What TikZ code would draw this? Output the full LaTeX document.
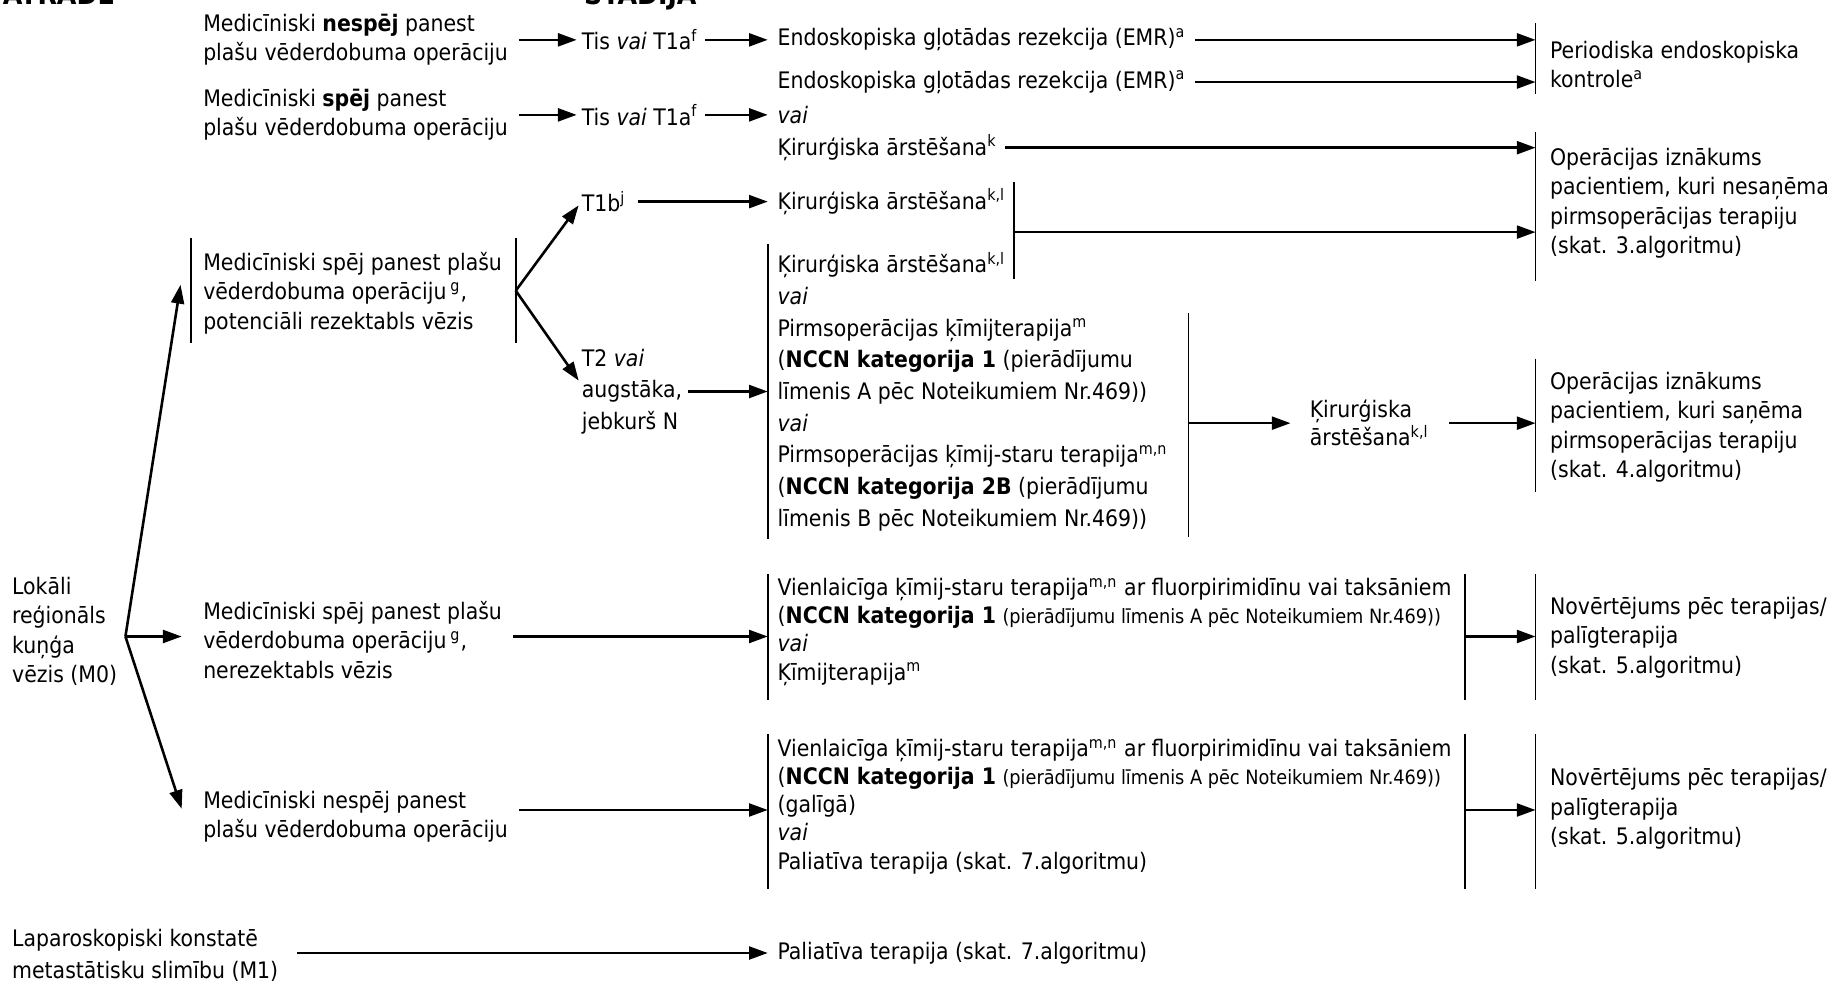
\documentclass[tikz,border=0pt]{standalone}
\usepackage{fontspec}
\setmainfont{DejaVu Sans Condensed}
\usetikzlibrary{arrows.meta}

\newcommand\bodyfont{\fontsize{9.7}{12.5}\selectfont}
\newcommand\loosefont{\fontsize{9.7}{13.5}\selectfont}
\newcommand\tightfont{\fontsize{9.7}{12}\selectfont}
\newcommand\smallpar{\fontsize{8.4}{12}\selectfont}

\begin{document}
\begin{tikzpicture}[x=0.5pt,y=-0.5pt,
  txt/.style={anchor=west,inner sep=0pt,align=left,font=\bodyfont},
  txtw/.style={txt,font=\loosefont},
  txtm/.style={txt,font=\tightfont},
  arr/.style={line width=1.1pt,-{Triangle[length=8pt,width=5.5pt]}},
  brk/.style={line width=0.7pt}]
\useasboundingbox (0,0) rectangle (1568,845);

% column headings, cut by the top edge
\node[anchor=base west,inner sep=0pt,font=\bfseries\fontsize{12}{14}\selectfont] (hatr) at (2,3.5) {ATRADE};
\node[anchor=base west,inner sep=0pt,font=\bfseries\fontsize{12}{14}\selectfont] (hstad) at (498,3.5) {STADIJA};

% --- early stages ---
\node[txt] (a1) at (173,34) {Medicīniski \textbf{nespēj} panest\\plašu vēderdobuma operāciju};
\node[txt] (a2) at (173,98) {Medicīniski \textbf{spēj} panest\\plašu vēderdobuma operāciju};
\node[txt] (tis1) at (496,34) {Tis \textit{vai} T1a\textsuperscript{f}};
\node[txt] (tis2) at (496,98) {Tis \textit{vai} T1a\textsuperscript{f}};
\node[txt] (emr1) at (663,34) {Endoskopiska gļotādas rezekcija (EMR)\textsuperscript{a}};
\node[txt] (emr2) at (663,70) {Endoskopiska gļotādas rezekcija (EMR)\textsuperscript{a}};
\node[txt] (vai1) at (663,98) {\textit{vai}};
\node[txt] (kirk) at (663,126) {Ķirurģiska ārstēšana\textsuperscript{k}};

\coordinate (b1t) at (1310,20);  \coordinate (b1b) at (1310,80);
\node[txt] (per) at (1322,55) {Periodiska endoskopiska\\kontrole\textsuperscript{a}};
\coordinate (b2t) at (1310,113); \coordinate (b2b) at (1310,240);
\node[txt] (opn1) at (1322,173.5) {Operācijas iznākums\\pacientiem, kuri nesaņēma\\pirmsoperācijas terapiju\\(skat. 3.algoritmu)};

% --- potentially resectable ---
\node[txt] (pot) at (173,250) {Medicīniski spēj panest plašu\\vēderdobuma operāciju\,\textsuperscript{g},\\potenciāli rezektabls vēzis};
\coordinate (pL1) at (163,203); \coordinate (pL2) at (163,293);
\coordinate (pR1) at (440,203); \coordinate (pR2) at (440,293);
\coordinate (pRm) at (440,248);
\node[txt] (t1b) at (496,172) {T1b\textsuperscript{j}};
\node[txtw] (t2) at (496,334) {T2 \textit{vai}\\augstāka,\\jebkurš N};
\node[txt] (kir1) at (663,172) {Ķirurģiska ārstēšana\textsuperscript{k,l}};
\coordinate (b3t) at (865,155); \coordinate (b3b) at (865,238); \coordinate (b3m) at (865,198);
\node[txtw] (pre) at (663,334) {Ķirurģiska ārstēšana\textsuperscript{k,l}\\
  \textit{vai}\\
  Pirmsoperācijas ķīmijterapija\textsuperscript{m}\\
  (\textbf{NCCN kategorija 1} (pierādījumu\\
  līmenis A pēc Noteikumiem Nr.469))\\
  \textit{vai}\\
  Pirmsoperācijas ķīmij-staru terapija\textsuperscript{m,n}\\
  (\textbf{NCCN kategorija 2B} (pierādījumu\\
  līmenis B pēc Noteikumiem Nr.469))};
\coordinate (c0t) at (655,208); \coordinate (c0b) at (655,460);
\coordinate (b5t) at (1014,267); \coordinate (b5b) at (1014,458); \coordinate (b5m) at (1014,361);
\node[txt,font=\fontsize{9.7}{11.8}\selectfont] (kir3) at (1117,361) {Ķirurģiska\\ārstēšana\textsuperscript{k,l}};
\coordinate (b4t) at (1310,306); \coordinate (b4b) at (1310,420);
\node[txt] (opn2) at (1322,364.5) {Operācijas iznākums\\pacientiem, kuri saņēma\\pirmsoperācijas terapiju\\(skat. 4.algoritmu)};

% --- locoregional disease ---
\node[txt] (lok) at (10,538.5) {Lokāli\\reģionāls\\kuņģa\\vēzis (M0)};
\coordinate (apex) at (107,543);
\coordinate (inPot) at (154,243);
\coordinate (inNes) at (155,690);
\node[txt] (nerez) at (173,546) {Medicīniski spēj panest plašu\\vēderdobuma operāciju\,\textsuperscript{g},\\nerezektabls vēzis};
\node[txt] (nesp) at (173,697) {Medicīniski nespēj panest\\plašu vēderdobuma operāciju};

\node[txtm] (ch1) at (663,539) {Vienlaicīga ķīmij-staru terapija\textsuperscript{m,n} ar fluorpirimidīnu vai taksāniem\\
  (\textbf{NCCN kategorija 1} {\smallpar(pierādījumu līmenis A pēc Noteikumiem Nr.469))}\\
  \textit{vai}\\
  Ķīmijterapija\textsuperscript{m}};
\coordinate (c1t) at (655,490);  \coordinate (c1b) at (655,597);
\coordinate (d1t) at (1250,490); \coordinate (d1b) at (1250,597); \coordinate (d1m) at (1250,543);
\coordinate (e1t) at (1310,490); \coordinate (e1b) at (1310,597);
\node[txt] (nov1) at (1322,544) {Novērtējums pēc terapijas/\\palīgterapija\\(skat. 5.algoritmu)};

\node[txtm] (ch2) at (663,688) {Vienlaicīga ķīmij-staru terapija\textsuperscript{m,n} ar fluorpirimidīnu vai taksāniem\\
  (\textbf{NCCN kategorija 1} {\smallpar(pierādījumu līmenis A pēc Noteikumiem Nr.469))}\\
  (galīgā)\\
  \textit{vai}\\
  Paliatīva terapija (skat. 7.algoritmu)};
\coordinate (c2t) at (655,626);  \coordinate (c2b) at (655,758);
\coordinate (d2t) at (1250,626); \coordinate (d2b) at (1250,758); \coordinate (d2m) at (1250,691);
\coordinate (e2t) at (1310,626); \coordinate (e2b) at (1310,758);
\node[txt] (nov2) at (1322,690) {Novērtējums pēc terapijas/\\palīgterapija\\(skat. 5.algoritmu)};

% --- metastatic disease ---
\node[txtw] (lap) at (10,815) {Laparoskopiski konstatē\\metastātisku slimību (M1)};
\node[txt] (pal) at (663,813) {Paliatīva terapija (skat. 7.algoritmu)};

% bracket bars
\foreach \p/\q in {b1t/b1b,b2t/b2b,pL1/pL2,pR1/pR2,b3t/b3b,c0t/c0b,b5t/b5b,b4t/b4b,
                   c1t/c1b,d1t/d1b,e1t/e1b,c2t/c2b,d2t/d2b,e2t/e2b}
  \draw[brk] (\p) -- (\q);

% connectors
\draw[arr,shorten <=4.5pt,shorten >=2pt] (a1.east) -- (tis1.west);
\draw[arr,shorten <=4.5pt,shorten >=2pt] (a2.east) -- (tis2.west);
\draw[arr,shorten <=3pt,shorten >=4pt] (tis1.east) -- (emr1.west);
\draw[arr,shorten <=3pt,shorten >=4pt] (tis2.east) -- (vai1.west);
\draw[arr,shorten <=4pt] (emr1.east) -- (emr1.east -| b1t);
\draw[arr,shorten <=4pt] (emr2.east) -- (emr2.east -| b1t);
\draw[arr,shorten <=3.5pt] (kirk.east) -- (kirk.east -| b2t);

\draw[arr,shorten >=2pt] (pRm) -- (t1b.west);
\draw[arr,shorten >=2pt] (pRm) -- ([yshift=3pt]t2.west);
\draw[arr,shorten <=5pt,shorten >=4pt] (t1b.east) -- (kir1.west);
\draw[arr,shorten <=2.5pt] (t2.east) -- (t2.east -| c0t);
\draw[arr] (b3m) -- (b3m -| b2t);
\draw[arr,shorten >=8pt] (b5m) -- (b5m -| kir3.west);
\draw[arr,shorten <=8.5pt] (kir3.east |- b5m) -- (b5m -| b4t);

\draw[arr] (apex) -- (inPot);
\draw[arr,shorten >=9pt] (apex) -- (apex -| nerez.west);
\draw[arr] (apex) -- (inNes);
\draw[arr,shorten <=4.5pt] (nerez.east |- apex) -- (apex -| c1t);
\draw[arr,shorten <=4.5pt] ([yshift=3pt]nesp.east) -- ([yshift=3pt]nesp.east -| c2t);
\draw[arr] (d1m) -- (d1m -| e1t);
\draw[arr] (d2m) -- (d2m -| e2t);
\draw[arr,shorten <=8pt,shorten >=4pt] (lap.east |- pal.west) -- (pal.west);
\end{tikzpicture}
\end{document}
